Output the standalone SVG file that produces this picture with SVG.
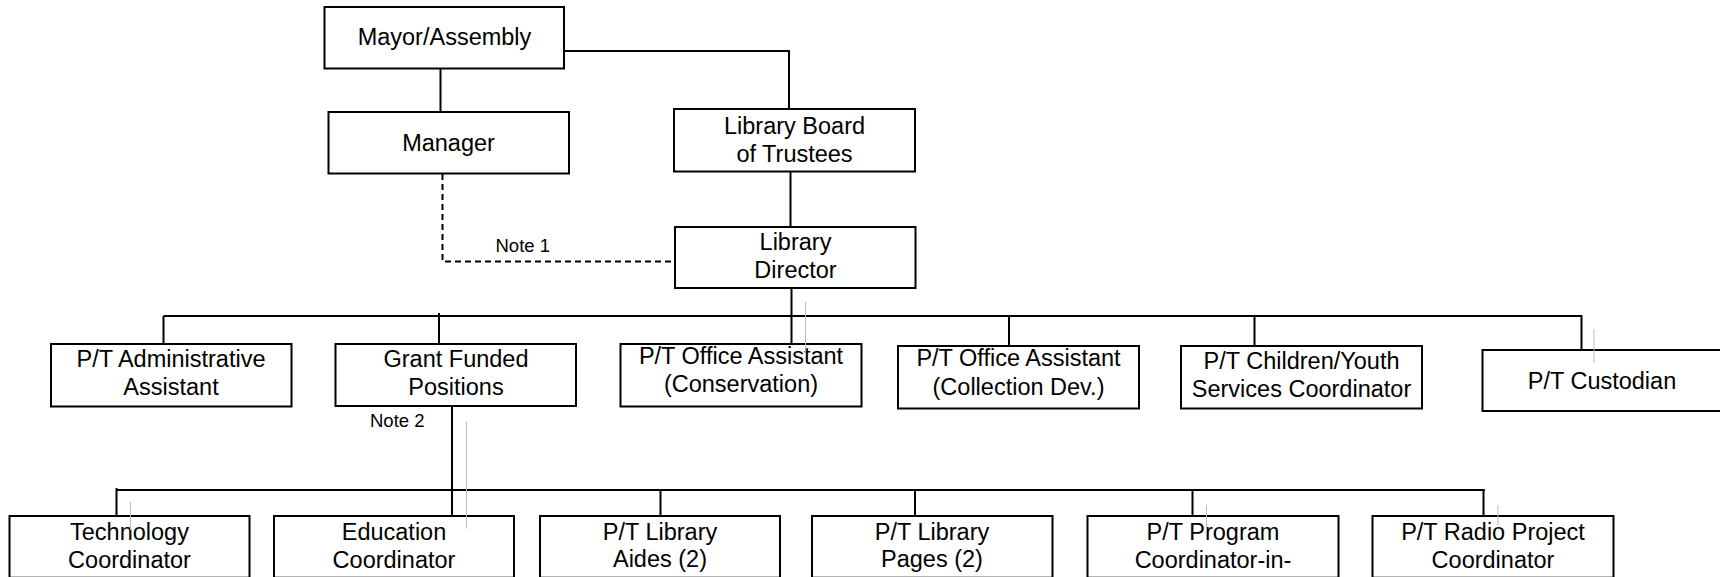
<svg xmlns="http://www.w3.org/2000/svg" width="1720" height="577" viewBox="0 0 1720 577">
<style>
.box{fill:#fff;stroke:#000;stroke-width:2}
.t{font-family:"Liberation Sans",Arial,sans-serif;font-size:23.5px;fill:#000;text-anchor:middle}
.n{font-family:"Liberation Sans",Arial,sans-serif;font-size:18.5px;fill:#000}
.ln{stroke:#000;stroke-width:2;fill:none}
.dash{stroke:#000;stroke-width:2;fill:none;stroke-dasharray:6,4}
.gr{stroke:#bbb;stroke-width:1;fill:none}
</style>
<rect width="1720" height="577" fill="#fff"/>
<g id="connectors">
<polyline class="ln" points="564,51 789,51 789,109"/>
<line class="ln" x1="440.5" y1="68" x2="440.5" y2="112"/>
<line class="ln" x1="790.5" y1="172" x2="790.5" y2="227"/>
<polyline class="dash" points="442.5,174 442.5,261.5 675,261.5"/>
<line class="ln" x1="791.5" y1="288" x2="791.5" y2="344"/>
<line class="ln" x1="163.5" y1="316" x2="1582" y2="316"/>
<line class="ln" x1="163.5" y1="316" x2="163.5" y2="344"/>
<line class="ln" x1="439" y1="313" x2="439" y2="344"/>
<line class="ln" x1="1009" y1="316" x2="1009" y2="346"/>
<line class="ln" x1="1254.5" y1="316" x2="1254.5" y2="346"/>
<line class="ln" x1="1581.5" y1="315" x2="1581.5" y2="350"/>
<line class="ln" x1="452" y1="406" x2="452" y2="516"/>
<line class="ln" x1="116.5" y1="490" x2="1485" y2="490"/>
<line class="ln" x1="116.5" y1="488" x2="116.5" y2="516"/>
<line class="ln" x1="660.5" y1="490" x2="660.5" y2="516"/>
<line class="ln" x1="915" y1="490" x2="915" y2="516"/>
<line class="ln" x1="1192.5" y1="490" x2="1192.5" y2="516"/>
<line class="ln" x1="1483.5" y1="490" x2="1483.5" y2="516"/>
<text class="n" x="495.5" y="251.5">Note 1</text>
<text class="n" x="370" y="427">Note 2</text>
</g>
<g id="mayor"><rect class="box" x="324.5" y="7" width="239.5" height="61.5"/><text class="t" x="444.5" y="45">Mayor/Assembly</text></g>
<g id="manager"><rect class="box" x="328.5" y="112" width="240.5" height="61.5"/><text class="t" x="448.5" y="151">Manager</text></g>
<g id="board"><rect class="box" x="674" y="109" width="241" height="62.5"/><text class="t" x="794.5" y="133.5">Library Board</text><text class="t" x="794.5" y="162">of Trustees</text></g>
<g id="director"><rect class="box" x="675" y="227" width="240.5" height="61"/><text class="t" x="795.5" y="250">Library</text><text class="t" x="795.5" y="277.5">Director</text></g>
<g id="admin"><rect class="box" x="51" y="344" width="240.5" height="62.5"/><text class="t" x="171" y="367">P/T Administrative</text><text class="t" x="171" y="395">Assistant</text></g>
<g id="grant"><rect class="box" x="335.5" y="344" width="240.5" height="62"/><text class="t" x="456" y="367">Grant Funded</text><text class="t" x="456" y="395">Positions</text></g>
<g id="conservation"><rect class="box" x="620.5" y="344" width="241" height="62.5"/><text class="t" x="741" y="364">P/T Office Assistant</text><text class="t" x="741" y="392">(Conservation)</text></g>
<g id="collection"><rect class="box" x="898" y="346" width="241" height="62.5"/><text class="t" x="1018.5" y="366">P/T Office Assistant</text><text class="t" x="1018.5" y="395">(Collection Dev.)</text></g>
<g id="children"><rect class="box" x="1181" y="346" width="241" height="62.5"/><text class="t" x="1301.5" y="368.5">P/T Children/Youth</text><text class="t" x="1301.5" y="396.5">Services Coordinator</text></g>
<g id="custodian"><rect class="box" x="1482.5" y="350" width="239" height="61"/><text class="t" x="1602" y="388.5">P/T Custodian</text></g>
<g id="technology"><rect class="box" x="9.5" y="516" width="240" height="61.7"/><text class="t" x="129.5" y="539.5">Technology</text><text class="t" x="129.5" y="567.5">Coordinator</text></g>
<g id="education"><rect class="box" x="274" y="516" width="240" height="61.7"/><text class="t" x="394" y="539.5">Education</text><text class="t" x="394" y="567.5">Coordinator</text></g>
<g id="aides"><rect class="box" x="540" y="516" width="240" height="61.7"/><text class="t" x="660" y="539.5">P/T Library</text><text class="t" x="660" y="567">Aides (2)</text></g>
<g id="pages"><rect class="box" x="812" y="516" width="240.5" height="61.7"/><text class="t" x="932" y="539.5">P/T Library</text><text class="t" x="932" y="567">Pages (2)</text></g>
<g id="program"><rect class="box" x="1087.5" y="516" width="251" height="61.7"/><text class="t" x="1213" y="539.5">P/T Program</text><text class="t" x="1213" y="567.5">Coordinator-in-</text></g>
<g id="radio"><rect class="box" x="1372.5" y="516" width="241" height="61.7"/><text class="t" x="1493" y="539.5">P/T Radio Project</text><text class="t" x="1493" y="567.5">Coordinator</text></g>
<g id="marks">
<line class="gr" x1="805.5" y1="302" x2="805.5" y2="353"/>
<line class="gr" x1="1594" y1="329" x2="1594" y2="362.5"/>
<line class="gr" x1="466.5" y1="421.5" x2="466.5" y2="528.5"/>
<line class="gr" x1="130.5" y1="502" x2="130.5" y2="530"/>
<line class="gr" x1="1206.5" y1="505" x2="1206.5" y2="530"/>
<line class="gr" x1="1498" y1="505" x2="1498" y2="525"/>
</g>
</svg>
